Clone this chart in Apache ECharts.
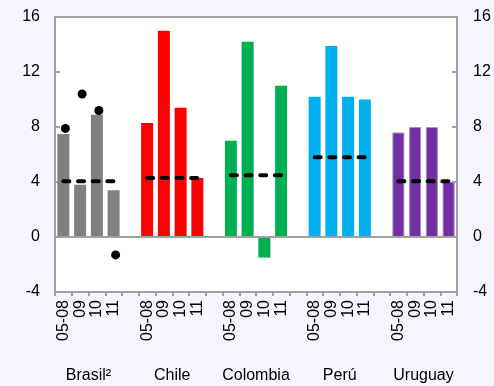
<!DOCTYPE html>
<html><head><meta charset="utf-8">
<script src="https://cdn.jsdelivr.net/npm/echarts@6/dist/echarts.min.js"></script>
<style>html,body{margin:0;padding:0;background:#F6F4FD;}#c{width:494px;height:386px;}</style>
</head><body><div id="c"></div>
<script>
const periods = ['05-08', '09', '10', '11'];
const countries = ['Brasil²', 'Chile', 'Colombia', 'Perú', 'Uruguay'];
const brasil = [7.5, 3.8, 8.9, 3.4];
const chile = [8.3, 15.0, 9.4, 4.3];
const colombia = [7.0, 14.2, -1.5, 11.0];
const peru = [10.2, 13.9, 10.2, 10.0];
const uruguay = [7.6, 8.0, 8.0, 4.0];
const averages = [4.05, 4.3, 4.5, 5.8, 4.05];
const brasilMarkers = [7.9, 10.4, 9.2, -1.3];
const yTicks = [-4, 0, 4, 8, 12, 16];
const colors = ['#808080', '#FF0000', '#00B050', '#00B0F0', '#7030A0'];

const values = [brasil, chile, colombia, peru, uruguay];
const categories = [];
countries.forEach((c, i) => {
  periods.forEach(p => categories.push(p));
  if (i < countries.length - 1) categories.push('');
});
const N = categories.length;
function place(k, arr, empty) {
  const d = new Array(N).fill(empty);
  arr.forEach((v, j) => { d[k * 5 + j] = v; });
  return d;
}
const font = '"Liberation Sans", Arial, sans-serif';
const grey = '#A0A0A0';
const series = [];
values.forEach((arr, k) => {
  const s = {
    type: 'bar', data: place(k, arr, '-'), barWidth: 12, barGap: '-100%',
    itemStyle: { color: colors[k] }, z: 2
  };
  if (k === 4) s.itemStyle = { color: colors[k], borderColor: '#A98CC8', borderWidth: 1 };
  if (k === 0) s.markLine = {
    silent: true, symbol: 'none', label: { show: false },
    lineStyle: { color: grey, width: 2, type: 'solid' }, data: [{ yAxis: 0 }]
  };
  series.push(s);
});
averages.forEach((a, k) => {
  series.push({
    type: 'line', data: place(k, [a, a, a, a], null), symbol: 'none', z: 5,
    lineStyle: { color: '#000', width: 4, type: [6, 8.67], cap: 'round' }
  });
});
series.push({
  type: 'scatter', data: place(0, brasilMarkers, null), symbol: 'circle', symbolSize: 9,
  symbolOffset: [2, 0], itemStyle: { color: '#000', opacity: 1 }, z: 6
});

const yAxisBase = {
  type: 'value', min: yTicks[0], max: yTicks[yTicks.length - 1], interval: 4,
  axisLine: { show: true, onZero: false, lineStyle: { color: grey, width: 2 } },
  axisTick: { show: true, inside: true, length: 5, lineStyle: { color: grey, width: 2 } },
  splitLine: { show: false },
  axisLabel: { color: '#000', fontSize: 16, fontFamily: font, margin: 15 }
};
const chart = echarts.init(document.getElementById('c'));
chart.setOption({
  animation: false,
  backgroundColor: '#F6F4FD',
  grid: { left: 55, right: 37, top: 17, bottom: 94, show: true, backgroundColor: '#fff', borderColor: grey, borderWidth: 2 },
  xAxis: [{
    type: 'category', data: categories, position: 'bottom',
    axisLine: { onZero: false, lineStyle: { color: grey, width: 2 } },
    axisTick: { show: true, length: 4, lineStyle: { color: grey, width: 2 } },
    axisLabel: { interval: 0, rotate: 90, fontSize: 16, fontFamily: font, color: '#000', margin: 8 }
  }, {
    type: 'value', min: 0, max: N, interval: 1, position: 'bottom',
    axisLine: { show: false, onZero: false }, axisTick: { show: false }, splitLine: { show: false },
    axisLabel: {
      margin: 76, fontSize: 16, fontFamily: font, color: '#000', hideOverlap: false,
      showMinLabel: true, showMaxLabel: true,
      formatter: v => (Math.round(v) % 5 === 2) ? countries[(Math.round(v) - 2) / 5] : ''
    }
  }],
  yAxis: [Object.assign({}, yAxisBase, { position: 'left' }),
          Object.assign({}, yAxisBase, { position: 'right', axisLabel: Object.assign({}, yAxisBase.axisLabel, { margin: 16 }) })],
  series: series
});
</script></body></html>
